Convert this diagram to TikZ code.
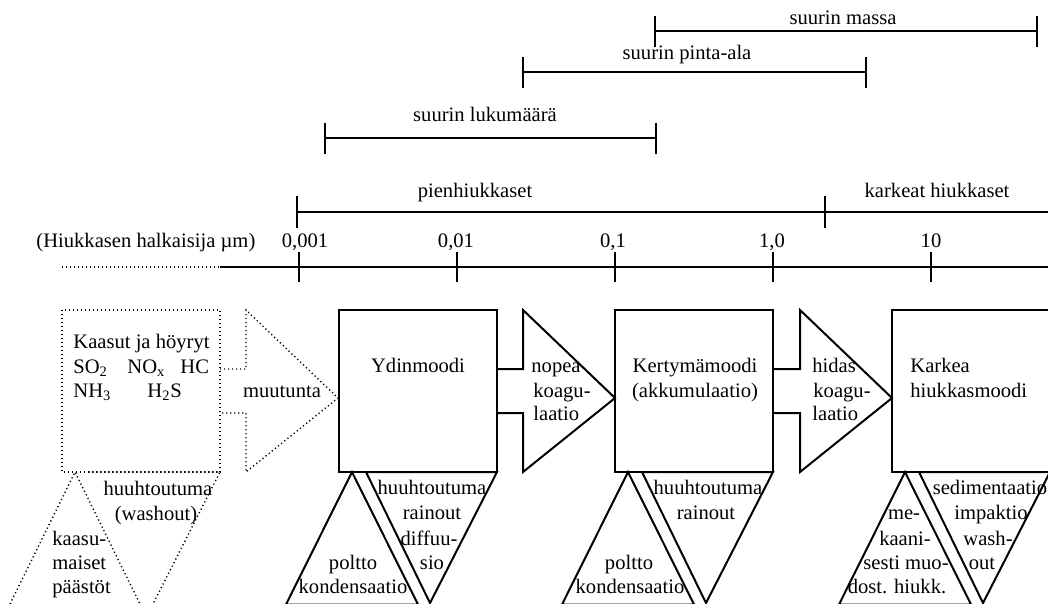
\documentclass[tikz,border=0pt]{standalone}
\usepackage{fontspec}
\setmainfont{Liberation Serif}
\newcommand\modecol[2]{%
  \draw[#2] (#1,310) rectangle ++(158,162);
  \draw[#2] (#1+13,472) -- (#1-53,604.5) -- (#1+79,604.5) -- cycle;
  \draw[#2] (#1+27,472) -- (#1+158,472) -- (#1+91,603) -- cycle;
}
\newcommand\blockarrow[3]{%
  \draw[#3] (#1,369) -- (#1+26,369) -- (#1+26,310) -- (#2,398) -- (#1+26,472) -- (#1+26,413) -- (#1,413);
}
\begin{document}
\begin{tikzpicture}[x=0.5pt,y=-0.5pt,
  solidline/.style={line width=1pt},
  dotline/.style={line width=0.7pt, dash pattern=on 0.6pt off 1.4pt},
  txt/.style={inner sep=0pt, anchor=base, font=\fontsize{10.3}{12}\selectfont},
  txtl/.style={txt, anchor=base west}]
\useasboundingbox (0,0) rectangle (1048,604);
\clip (0,0) rectangle (1048,604);

% ---- top range bars ----
\coordinate (mL) at (655,31);  \coordinate (mR) at (1037,31);
\coordinate (pL) at (523,72);  \coordinate (pR) at (866,72);
\coordinate (lL) at (325,138); \coordinate (lR) at (656,138);
\coordinate (fL) at (297,212); \coordinate (fM) at (825,212); \coordinate (fR) at (1048,212);
\draw[solidline] (mL) -- (mR);
\draw[solidline] ([yshift=7.5pt]mL) -- ([yshift=-8pt]mL);
\draw[solidline] ([yshift=7.5pt]mR) -- ([yshift=-8pt]mR);
\draw[solidline] (pL) -- (pR);
\draw[solidline] ([yshift=7.5pt]pL) -- ([yshift=-8pt]pL);
\draw[solidline] ([yshift=7.5pt]pR) -- ([yshift=-8pt]pR);
\draw[solidline] (lL) -- (lR);
\draw[solidline] ([yshift=7.5pt]lL) -- ([yshift=-8pt]lL);
\draw[solidline] ([yshift=7.5pt]lR) -- ([yshift=-8pt]lR);
\draw[solidline] (fL) -- (fR);
\draw[solidline] ([yshift=8pt]fL) -- ([yshift=-8pt]fL);
\draw[solidline] ([yshift=8pt]fM) -- ([yshift=-8pt]fM);

\node[txt] (tmassa) at (843,25) {suurin massa};
\node[txt] (tpinta) at (687,60) {suurin pinta-ala};
\node[txt] (tluku) at (485,122) {suurin lukumäärä};
\node[txt] (tpien) at (475,198) {pienhiukkaset};
\node[txt] (tkark) at (937,198) {karkeat hiukkaset};

% ---- axis ----
\coordinate (a0) at (62,267); \coordinate (a1) at (220,267); \coordinate (a2) at (1048,267);
\draw[dotline] (a0) -- (a1);
\draw[solidline] (a1) -- (a2);
\foreach \x in {299,457,615,773,931}{
  \draw[solidline] (\x,252) -- (\x,282);
}
\node[txtl] (axlab) at (36,248) {(Hiukkasen halkaisija µm)};
\node[txt] (k1) at (305,248) {0,001};
\node[txt] (k2) at (456,248) {0,01};
\node[txt] (k3) at (613,248) {0,1};
\node[txt] (k4) at (772,248) {1,0};
\node[txt] (k5) at (931,248) {10};

% ---- mode columns ----
% dotted gas column (triangles open at the bottom edge)
\draw[dotline] (62,310) rectangle ++(158,162);
\draw[dotline] (10,604) -- (75,472) -- (140,604);
\draw[dotline] (89,472) -- (220,472) -- (153,604);
\modecol{339}{solidline}
\modecol{615}{solidline}
\modecol{892}{solidline}
\blockarrow{220}{338}{dotline}
\blockarrow{497}{615}{solidline}
\blockarrow{774}{892}{solidline}

% gases box
\node[txtl] (g1) at (73,348) {Kaasut ja höyryt};
\node[txtl] (g2) at (73,373) {SO\textsubscript{2}};
\node[txtl] (g3) at (127,373) {NO\textsubscript{x}};
\node[txtl] (g4) at (180,373) {HC};
\node[txtl] (g5) at (73,397) {NH\textsubscript{3}};
\node[txtl] (g6) at (147,397) {H\textsubscript{2}S};
\node[txt] (muut) at (282,397) {muutunta};
\node[txt] (gw1) at (158,495) {huuhtoutuma};
\node[txt] (gw2) at (156,520) {(washout)};
\node[txtl] (gp1) at (52,545) {kaasu-};
\node[txtl] (gp2) at (52,569) {maiset};
\node[txtl] (gp3) at (52,593) {päästöt};

% Ydinmoodi
\node[txt] (y1) at (418,372) {Ydinmoodi};
\node[txtl] (n1) at (531,372) {nopea};
\node[txtl] (n2) at (533,397) {koagu-};
\node[txtl] (n3) at (533,420) {laatio};
\node[txt] (yp1) at (353,569) {poltto};
\node[txt] (yp2) at (353,593) {kondensaatio};
\node[txt] (yh1) at (432,494) {huuhtoutuma};
\node[txt] (yh2) at (432,519) {rainout};
\node[txt] (yh3) at (429,545) {diffuu-};
\node[txt] (yh4) at (432,569) {sio};

% Kertymämoodi
\node[txt] (k1a) at (695,372) {Kertymämoodi};
\node[txt] (k1b) at (695,397) {(akkumulaatio)};
\node[txtl] (h1) at (812,372) {hidas};
\node[txtl] (h2) at (813,397) {koagu-};
\node[txtl] (h3) at (812,420) {laatio};
\node[txt] (kp1) at (629,569) {poltto};
\node[txt] (kp2) at (630,593) {kondensaatio};
\node[txt] (kh1) at (708,494) {huuhtoutuma};
\node[txt] (kh2) at (706,519) {rainout};

% Karkea
\node[txtl] (c1) at (910,372) {Karkea};
\node[txtl] (c2) at (910,397) {hiukkasmoodi};
\node[txt] (cm1) at (904,519) {me-};
\node[txt] (cm2) at (905,545) {kaani-};
\node[txt] (cm3) at (906,569) {sesti muo-};
\node[txt] (cm4) at (897,593) {dost. hiukk.};
\node[txt] (cs1) at (990,494) {sedimentaatio};
\node[txt] (cs2) at (991,519) {impaktio};
\node[txt] (cs3) at (988,545) {wash-};
\node[txt] (cs4) at (982,569) {out};
\end{tikzpicture}
\end{document}
